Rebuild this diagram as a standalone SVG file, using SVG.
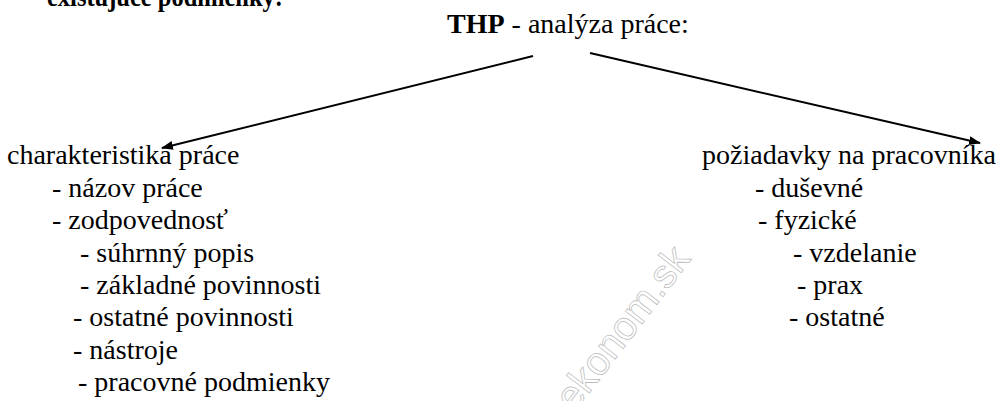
<svg xmlns="http://www.w3.org/2000/svg" width="1003" height="401" viewBox="0 0 1003 401">
<style>
text{font-family:'Liberation Serif','Times New Roman',serif;font-size:28px;fill:#000}
.b{font-weight:bold}
text.wm{font-family:'Liberation Sans',Arial,sans-serif;font-size:40px;fill:none;stroke:#b8b8b8;stroke-width:0.7}
.c{stroke:#000;stroke-width:2;fill:none}
</style>
<defs>
<marker id="ah2" viewBox="0 0 12 10" refX="11" refY="5" markerWidth="12" markerHeight="10" markerUnits="userSpaceOnUse" orient="auto">
<path d="M0,0.5 L12,5 L0,9.5 z" fill="#000"/>
</marker>
</defs>
<rect width="1003" height="401" fill="#fff"/>
<text class="wm" transform="translate(633,336) rotate(-52.6)" text-anchor="middle">ekonom.sk</text>
<g id="heading"><text class="b" x="47" y="6" textLength="236" lengthAdjust="spacingAndGlyphs">existujúce podmienky:</text></g>
<g id="root"><text x="447" y="33"><tspan class="b">THP</tspan> - analýza práce:</text></g>
<g id="connectors">
<line class="c" x1="533" y1="56" x2="162" y2="148" marker-end="url(#ah2)"/>
<line class="c" x1="590" y1="53" x2="980" y2="143" marker-end="url(#ah2)"/>
</g>
<g id="left">
<text x="7" y="164">charakteristika práce</text>
<text x="52" y="197">- názov práce</text>
<text x="52" y="229">- zodpovednosť</text>
<text x="80" y="262">- súhrnný popis</text>
<text x="80" y="294">- základné povinnosti</text>
<text x="73" y="326">- ostatné povinnosti</text>
<text x="73" y="359">- nástroje</text>
<text x="78" y="391">- pracovné podmienky</text>
</g>
<g id="right">
<text x="702" y="164">požiadavky na pracovníka</text>
<text x="755" y="197">- duševné</text>
<text x="758" y="229">- fyzické</text>
<text x="793" y="262">- vzdelanie</text>
<text x="797" y="294">- prax</text>
<text x="789" y="326">- ostatné</text>
</g>
</svg>
